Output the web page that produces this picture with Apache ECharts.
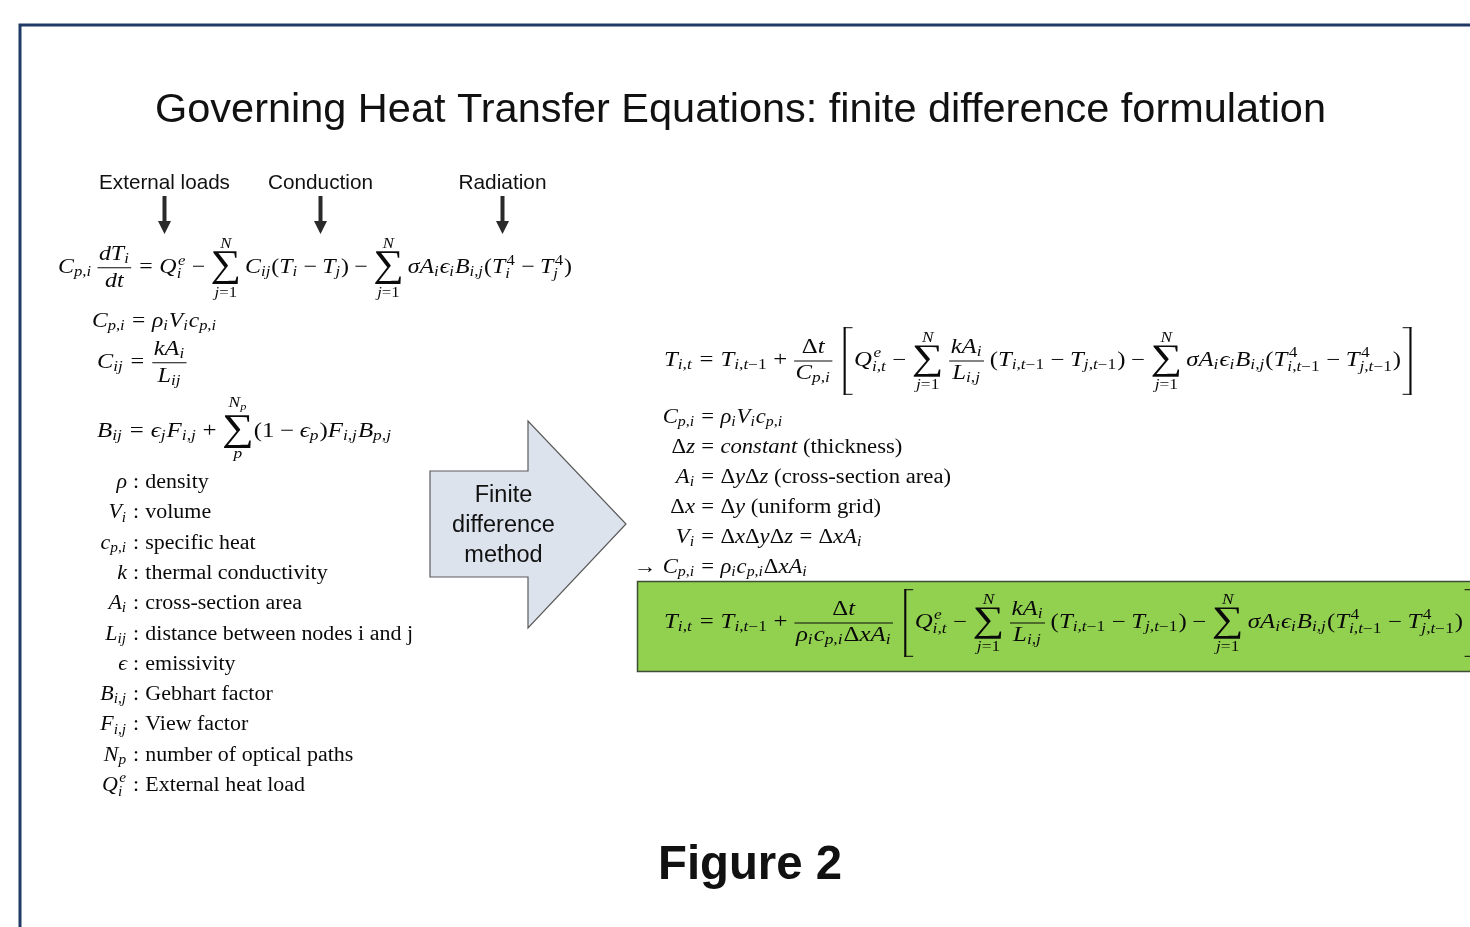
<!DOCTYPE html>
<html><head><meta charset="utf-8">
<script src="https://cdn.jsdelivr.net/npm/echarts@6/dist/echarts.min.js"></script>
<style>html,body{margin:0;padding:0;background:#fff;overflow:hidden}#chart{width:1470px;height:927px}</style>
</head><body><div id="chart"></div>
<script>
// ---------------- content ----------------
const TITLE = 'Governing Heat Transfer Equations: finite difference formulation';
const TERM_LABELS = ['External loads', 'Conduction', 'Radiation'];
const GOVERNING_EQ = 'C_{p,i}\\frac{dT_i}{dt} = Q_i^e - \\sum_{j=1}^{N} C_{ij}(T_i - T_j) - \\sum_{j=1}^{N} \\sigma A_i\\epsilon_i B_{i,j}(T_i^4 - T_j^4)';
const PROPERTY_EQS = [
  'C_{p,i} = \\rho_i V_i c_{p,i}',
  'C_{ij} = \\frac{kA_i}{L_{ij}}',
  'B_{ij} = \\epsilon_j F_{i,j} + \\sum_{p}^{N_p}(1 - \\epsilon_p)F_{i,j}B_{p,j}'
];
const SYMBOLS = ['\\rho', 'V_i', 'c_{p,i}', 'k', 'A_i', 'L_{ij}', '\\epsilon', 'B_{i,j}', 'F_{i,j}', 'N_p', 'Q_i^e'];
const MEANINGS = ['density', 'volume', 'specific heat', 'thermal conductivity', 'cross-section area',
  'distance between nodes i and j', 'emissivity', 'Gebhart factor', 'View factor',
  'number of optical paths', 'External heat load'];
const METHOD_LABEL = ['Finite', 'difference', 'method'];
const EXPLICIT_EQ = 'T_{i,t} = T_{i,t-1} + \\frac{\\Delta t}{C_{p,i}}\\,\\left[Q_{i,t}^e - \\sum_{j=1}^{N}\\frac{kA_i}{L_{i,j}}(T_{i,t-1} - T_{j,t-1}) - \\sum_{j=1}^{N}\\sigma A_i\\epsilon_i B_{i,j}(T_{i,t-1}^4 - T_{j,t-1}^4)\\right]';
const STEP_LHS = ['C_{p,i}', '\\Delta z', 'A_i', '\\Delta x', 'V_i', '\\to C_{p,i}'];
const STEP_RHS = ['\\rho_i V_i c_{p,i}', 'constant\\text{ (thickness)}', '\\Delta y\\Delta z\\text{ (cross-section area)}',
  '\\Delta y\\text{ (uniform grid)}', '\\Delta x\\Delta y\\Delta z = \\Delta x A_i', '\\rho_i c_{p,i}\\Delta x A_i'];
const FINAL_EQ = 'T_{i,t} = T_{i,t-1} + \\frac{\\Delta t}{\\rho_i c_{p,i}\\Delta x A_i}\\,\\left[Q_{i,t}^e - \\sum_{j=1}^{N}\\frac{kA_i}{L_{i,j}}(T_{i,t-1} - T_{j,t-1}) - \\sum_{j=1}^{N}\\sigma A_i\\epsilon_i B_{i,j}(T_{i,t-1}^4 - T_{j,t-1}^4)\\right]';
const FIGURE_LABEL = 'Figure 2';

// ---------------- fonts & measuring ----------------
const SERIF = '"Liberation Serif","DejaVu Serif",serif';
const SANS = '"Liberation Sans",Arial,"DejaVu Sans",sans-serif';
const INK = '#0a0a0a';
const mctx = document.createElement('canvas').getContext('2d');
function fontStr(size, it) { return (it ? 'italic ' : '') + size.toFixed(2) + 'px ' + SERIF; }
function metrics(text, font) {
  mctx.font = font; mctx.textBaseline = 'alphabetic';
  const m = mctx.measureText(text);
  return { w: m.width, h: Math.max(0, m.actualBoundingBoxAscent), d: Math.max(0, m.actualBoundingBoxDescent) };
}
const midCache = {};
function midOff(font) {
  if (midCache[font] == null) {
    mctx.font = font; mctx.textBaseline = 'alphabetic';
    const a = mctx.measureText('H').actualBoundingBoxAscent;
    mctx.textBaseline = 'middle';
    const b = mctx.measureText('H').actualBoundingBoxAscent;
    mctx.textBaseline = 'alphabetic';
    midCache[font] = a - b;
  }
  return midCache[font];
}

// ---------------- tiny TeX parser ----------------
const GREEK = { rho: ['ρ', true], sigma: ['σ', true], epsilon: ['ϵ', true], Delta: ['Δ', false] };
function parseTex(src) {
  let i = 0;
  function skipWs() { while (src[i] === ' ') i++; }
  function atEnd(end) {
    if (i >= src.length) return true;
    if (end === '}') return src[i] === '}';
    if (end === '\\right') return src.startsWith('\\right', i);
    return false;
  }
  function parseArg() {
    skipWs();
    if (src[i] === '{') { i++; const l = parseList('}'); i++; return l; }
    const a = parseAtom(); return a ? [a] : [];
  }
  function parseList(end) {
    const list = [];
    while (!atEnd(end)) {
      const c = src[i];
      if (c === ' ') { i++; continue; }
      if (c === '_' || c === '^') {
        i++; const arg = parseArg(); const last = list[list.length - 1];
        if (c === '_') last.sub = arg; else last.sup = arg; continue;
      }
      const a = parseAtom(); if (a) list.push(a);
    }
    return list;
  }
  function parseAtom() {
    const c = src[i];
    if (c === '{') { i++; const body = parseList('}'); i++; return { type: 'group', body, cls: 'ord' }; }
    if (c === '\\') {
      i++; let name = '';
      while (i < src.length && /[a-zA-Z]/.test(src[i])) name += src[i++];
      if (!name) name = src[i++];
      if (name === 'frac') { const num = parseArg(); const den = parseArg(); return { type: 'frac', num, den, cls: 'inner' }; }
      if (name === 'sum') return { type: 'op', cls: 'op' };
      if (name === 'text') { skipWs(); i++; let t = ''; while (i < src.length && src[i] !== '}') t += src[i++]; i++; return { type: 'text', text: t, cls: 'ord' }; }
      if (name === 'left') { const open = src[i++]; const body = parseList('\\right'); i += 6; const close = src[i++]; return { type: 'delim', open, close, body, cls: 'inner' }; }
      if (name === 'to') return { type: 'sym', text: '→', it: false, cls: 'rel' };
      if (name === ',') return { type: 'space', w: 3, cls: null };
      if (GREEK[name]) return { type: 'sym', text: GREEK[name][0], it: GREEK[name][1], cls: 'ord' };
      return { type: 'sym', text: name, it: false, cls: 'ord' };
    }
    i++;
    if (/[a-zA-Z]/.test(c)) return { type: 'sym', text: c, it: true, cls: 'ord' };
    if (/[0-9]/.test(c)) return { type: 'sym', text: c, it: false, cls: 'ord' };
    if (c === '+') return { type: 'sym', text: '+', it: false, cls: 'bin' };
    if (c === '-') return { type: 'sym', text: '−', it: false, cls: 'bin' };
    if (c === '=' || c === ':') return { type: 'sym', text: c, it: false, cls: 'rel' };
    if (c === '(' || c === '[') return { type: 'sym', text: c, it: false, cls: 'open' };
    if (c === ')' || c === ']') return { type: 'sym', text: c, it: false, cls: 'close' };
    if (c === ',') return { type: 'sym', text: ',', it: false, cls: 'punct' };
    return { type: 'sym', text: c, it: false, cls: 'ord' };
  }
  return parseList(null);
}

// ---------------- layout ----------------
function sizeAt(base, lvl) { return base * [1, 0.7, 0.5][Math.min(lvl, 2)]; }
const SPACE = {
  'ord-op': 1, 'ord-bin': 2, 'ord-rel': 3, 'ord-inner': 1,
  'op-ord': 1, 'op-op': 1, 'op-rel': 3, 'op-inner': 1,
  'bin-ord': 2, 'bin-op': 2, 'bin-open': 2, 'bin-inner': 2,
  'rel-ord': 3, 'rel-op': 3, 'rel-open': 3, 'rel-inner': 3,
  'close-op': 1, 'close-bin': 2, 'close-rel': 3, 'close-inner': 1,
  'punct-ord': 1, 'punct-op': 1, 'punct-rel': 1, 'punct-open': 1, 'punct-close': 1, 'punct-punct': 1, 'punct-inner': 1,
  'inner-ord': 1, 'inner-op': 1, 'inner-bin': 2, 'inner-rel': 3, 'inner-open': 1, 'inner-punct': 1, 'inner-inner': 1
};
function spacing(l, r, lvl) {
  let v = SPACE[l + '-' + r] || 0;
  if (lvl > 0 && !(v === 1 && (l === 'op' || r === 'op'))) v = 0;
  return [0, 3, 4, 5][v];
}
function textBox(str, font, color) {
  const m = metrics(str, font);
  return {
    w: m.w, h: m.h, d: m.d, draw(x, y, out) {
      out.push({ type: 'text', x: x, y: y - midOff(font), silent: true,
        style: { text: str, font: font, fill: color, align: 'left', verticalAlign: 'middle' } });
    }
  };
}
function layoutList(list, base, lvl, color) {
  const s = sizeAt(base, lvl);
  let prev = null; const boxes = [];
  list.forEach(a => {
    if (a.type === 'space') { boxes.push({ b: { w: a.w * s / 18, h: 0, d: 0, draw() {} }, sp: 0 }); return; }
    let cls = a.cls;
    if (cls === 'bin' && (prev === null || ['bin', 'op', 'rel', 'open', 'punct'].includes(prev))) cls = 'ord';
    const sp = prev === null ? 0 : spacing(prev, cls, lvl) * s / 18;
    boxes.push({ b: layoutAtom(a, base, lvl, color), sp });
    prev = cls;
  });
  let w = 0, h = 0, d = 0; const pos = [];
  boxes.forEach(({ b, sp }) => { w += sp; pos.push(w); w += b.w; h = Math.max(h, b.h); d = Math.max(d, b.d); });
  return { w, h, d, draw(x, y, out) { boxes.forEach(({ b }, k) => b.draw(x + pos[k], y, out)); } };
}
function fracBox(a, base, lvl, color) {
  const s = sizeAt(base, lvl);
  const num = layoutList(a.num, base, lvl, color), den = layoutList(a.den, base, lvl, color);
  const axis = 0.25 * s, th = Math.max(1, 0.05 * s), pad = 0.12 * s;
  const w = Math.max(num.w, den.w) + 2 * pad;
  const nu = Math.max(0.64 * s, axis + th / 2 + 0.14 * s + num.d);
  const dn = Math.max(0.66 * s, -axis + th / 2 + 0.14 * s + den.h);
  return {
    w, h: nu + num.h, d: dn + den.d, draw(x, y, out) {
      num.draw(x + (w - num.w) / 2, y - nu, out);
      den.draw(x + (w - den.w) / 2, y + dn, out);
      out.push({ type: 'rect', silent: true, shape: { x: x + 0.06 * s, y: y - axis - th / 2, width: w - 0.12 * s, height: th }, style: { fill: color } });
    }
  };
}
function opBox(a, base, lvl, color) {
  const s = sizeAt(base, lvl);
  const ref = metrics('∑', fontStr(100, false));
  const gf = fontStr(1.58 * s * 100 / (ref.h + ref.d), false);
  const g = metrics('∑', gf);
  const axis = 0.25 * s, half = (g.h + g.d) / 2;
  const sup = a.sup ? layoutList(a.sup, base, lvl + 1, color) : null;
  const sub = a.sub ? layoutList(a.sub, base, lvl + 1, color) : null;
  const w = Math.max(g.w, sup ? sup.w : 0, sub ? sub.w : 0);
  const supB = axis + half + 0.14 * s + (sup ? sup.d : 0);
  const subB = -axis + half + 0.12 * s + (sub ? sub.h : 0);
  return {
    w, h: sup ? supB + sup.h : axis + half, d: sub ? subB + sub.d : half - axis,
    draw(x, y, out) {
      const gb = y - axis + (g.h - g.d) / 2;
      out.push({ type: 'text', x: x + (w - g.w) / 2, y: gb - midOff(gf), silent: true,
        style: { text: '∑', font: gf, fill: color, align: 'left', verticalAlign: 'middle' } });
      if (sup) sup.draw(x + (w - sup.w) / 2, y - supB, out);
      if (sub) sub.draw(x + (w - sub.w) / 2, y + subB, out);
    }
  };
}
function delimBox(a, base, lvl, color) {
  const s = sizeAt(base, lvl);
  const body = layoutList(a.body, base, lvl, color);
  const axis = 0.25 * s;
  const half = Math.max(body.h - axis, body.d + axis) + 0.12 * s;
  const bw = 0.36 * s, gap = 0.12 * s, vt = Math.max(1.5, 0.085 * s), ht = Math.max(1, 0.045 * s);
  const w = bw + gap + body.w + gap + bw;
  return {
    w, h: axis + half, d: half - axis, draw(x, y, out) {
      const top = y - axis - half, bot = y - axis + half;
      const lx = x + 0.06 * s, rx = x + w - 0.06 * s;
      out.push({ type: 'rect', silent: true, shape: { x: lx, y: top, width: vt, height: bot - top }, style: { fill: color } });
      out.push({ type: 'rect', silent: true, shape: { x: lx, y: top, width: bw, height: ht }, style: { fill: color } });
      out.push({ type: 'rect', silent: true, shape: { x: lx, y: bot - ht, width: bw, height: ht }, style: { fill: color } });
      out.push({ type: 'rect', silent: true, shape: { x: rx - vt, y: top, width: vt, height: bot - top }, style: { fill: color } });
      out.push({ type: 'rect', silent: true, shape: { x: rx - bw, y: top, width: bw, height: ht }, style: { fill: color } });
      out.push({ type: 'rect', silent: true, shape: { x: rx - bw, y: bot - ht, width: bw, height: ht }, style: { fill: color } });
      body.draw(x + bw + gap, y, out);
    }
  };
}
function layoutAtom(a, base, lvl, color) {
  const s = sizeAt(base, lvl);
  if (a.type === 'op') return opBox(a, base, lvl, color);
  let nuc;
  if (a.type === 'sym') nuc = textBox(a.text, fontStr(s, a.it), color);
  else if (a.type === 'text') nuc = textBox(a.text, fontStr(s, false), color);
  else if (a.type === 'group') nuc = layoutList(a.body, base, lvl, color);
  else if (a.type === 'frac') nuc = fracBox(a, base, lvl, color);
  else if (a.type === 'delim') nuc = delimBox(a, base, lvl, color);
  if (!a.sub && !a.sup) return nuc;
  const sup = a.sup ? layoutList(a.sup, base, lvl + 1, color) : null;
  const sub = a.sub ? layoutList(a.sub, base, lvl + 1, color) : null;
  const ic = a.it ? 0.06 * s : 0;
  let u = 0, v = 0;
  if (sup) u = Math.max(lvl === 0 ? 0.40 * s : 0.36 * s, nuc.h - 0.27 * s, sup.d + 0.12 * s);
  if (sub) {
    v = sup ? 0.26 * s : 0.16 * s;
    v = Math.max(v, sub.h - 0.36 * s);
    if (sup) { const gapNow = (u - sup.d) - (sub.h - v); if (gapNow < 0.16 * s) v += 0.16 * s - gapNow; }
  }
  const w = nuc.w + Math.max(sup ? sup.w + ic : 0, sub ? sub.w : 0) + 0.04 * s;
  return {
    w, h: Math.max(nuc.h, sup ? u + sup.h : 0), d: Math.max(nuc.d, sub ? v + sub.d : 0),
    draw(x, y, out) {
      nuc.draw(x, y, out);
      if (sup) sup.draw(x + nuc.w + ic, y - u, out);
      if (sub) sub.draw(x + nuc.w, y + v, out);
    }
  };
}
function mathBox(tex, size) { return layoutList(parseTex(tex), size, 0, INK); }

// ---------------- build graphic ----------------
const els = [];
function fitted(tex, x, baseline, size, width) {
  const b = mathBox(tex, size);
  const out = []; b.draw(0, baseline, out);
  els.push({ type: 'group', x: x, y: 0, scaleX: width / b.w, children: out });
}
function sansText(text, x, y, size, weight, align) {
  els.push({ type: 'text', x, y, silent: true,
    style: { text, font: (weight || 'normal') + ' ' + size + 'px ' + SANS, fill: '#111', align: align || 'center', verticalAlign: 'middle' } });
}
function fitSans(text, weight, target) {
  mctx.font = weight + ' 100px ' + SANS; return 100 * target / mctx.measureText(text).width;
}

// frame
els.push({ type: 'polyline', silent: true, shape: { points: [[20, 935], [20, 25], [1480, 25]] }, style: { stroke: '#1f3a64', lineWidth: 3, fill: null } });

// title
sansText(TITLE, 740.5, 111, fitSans(TITLE, 'normal', 1171).toFixed(2), 'normal');

// term labels + arrows
const TERM_X = [164.5, 320.5, 502.5];
TERM_LABELS.forEach((t, k) => {
  sansText(t, TERM_X[k], 183, fitSans(t, 'normal', [131, 105, 88][k]).toFixed(2), 'normal');
  const c = TERM_X[k];
  els.push({ type: 'polygon', silent: true, shape: { points: [[c - 2, 196], [c + 2, 196], [c + 2, 221], [c + 6.5, 221], [c, 234], [c - 6.5, 221], [c - 2, 221]] }, style: { fill: '#2a2a2a' } });
});

// governing equation and property equations
fitted(GOVERNING_EQ, 58, 273, 21, 514);
fitted(PROPERTY_EQS[0], 92, 327, 21, 125);
fitted(PROPERTY_EQS[1], 97, 368, 21, 91);
fitted(PROPERTY_EQS[2], 97, 437, 21, 295);

// symbol definitions (symbol right-aligned to a column)
(function () {
  const col = 127, y0 = 488, dy = 30.3, size = 20;
  const rows = SYMBOLS.map((sym, k) => ({ lhs: mathBox(sym, size), row: mathBox(sym + ' : \\text{' + MEANINGS[k] + '}', size) }));
  const ref = rows[5];
  const sx = (413 - col) / (ref.row.w - ref.lhs.w);
  const out = [];
  rows.forEach((r, k) => r.row.draw(-r.lhs.w, y0 + dy * k, out));
  els.push({ type: 'group', x: col, y: 0, scaleX: sx, children: out });
})();

// big block arrow
els.push({ type: 'polygon', silent: true,
  shape: { points: [[430, 471], [528, 471], [528, 421], [626, 524], [528, 628], [528, 577], [430, 577]] },
  style: { fill: '#dce3ed', stroke: '#5a5a5a', lineWidth: 1.2 } });
METHOD_LABEL.forEach((t, k) => sansText(t, 503.5, 496 + 30 * k, 23.5, 'normal'));

// explicit scheme
fitted(EXPLICIT_EQ, 664, 366, 20, 749);

// derivation steps, aligned on "="
(function () {
  const col = 695, y0 = 423, dy = 30, size = 20;
  const rows = STEP_LHS.map((l, k) => ({ lhs: mathBox(l, size), row: mathBox(l + ' = ' + STEP_RHS[k], size) }));
  const ref = rows[2];
  const sx = (951 - col) / (ref.row.w - ref.lhs.w);
  const out = [];
  rows.forEach((r, k) => r.row.draw(-r.lhs.w, y0 + dy * k, out));
  els.push({ type: 'group', x: col, y: 0, scaleX: sx, children: out });
})();

// final highlighted equation
els.push({ type: 'rect', silent: true, shape: { x: 637.5, y: 581.5, width: 900, height: 90 }, style: { fill: '#92d050', stroke: '#3e4d35', lineWidth: 1.5 } });
fitted(FINAL_EQ, 664, 628, 20, 811);

// figure label
sansText(FIGURE_LABEL, 750, 866, fitSans(FIGURE_LABEL, 'bold', 184).toFixed(2), 'bold');

const chart = echarts.init(document.getElementById('chart'), null, { renderer: 'canvas', width: 1470, height: 927 });
chart.setOption({ animation: false, backgroundColor: '#ffffff', graphic: { elements: els } });
</script>
</body></html>
